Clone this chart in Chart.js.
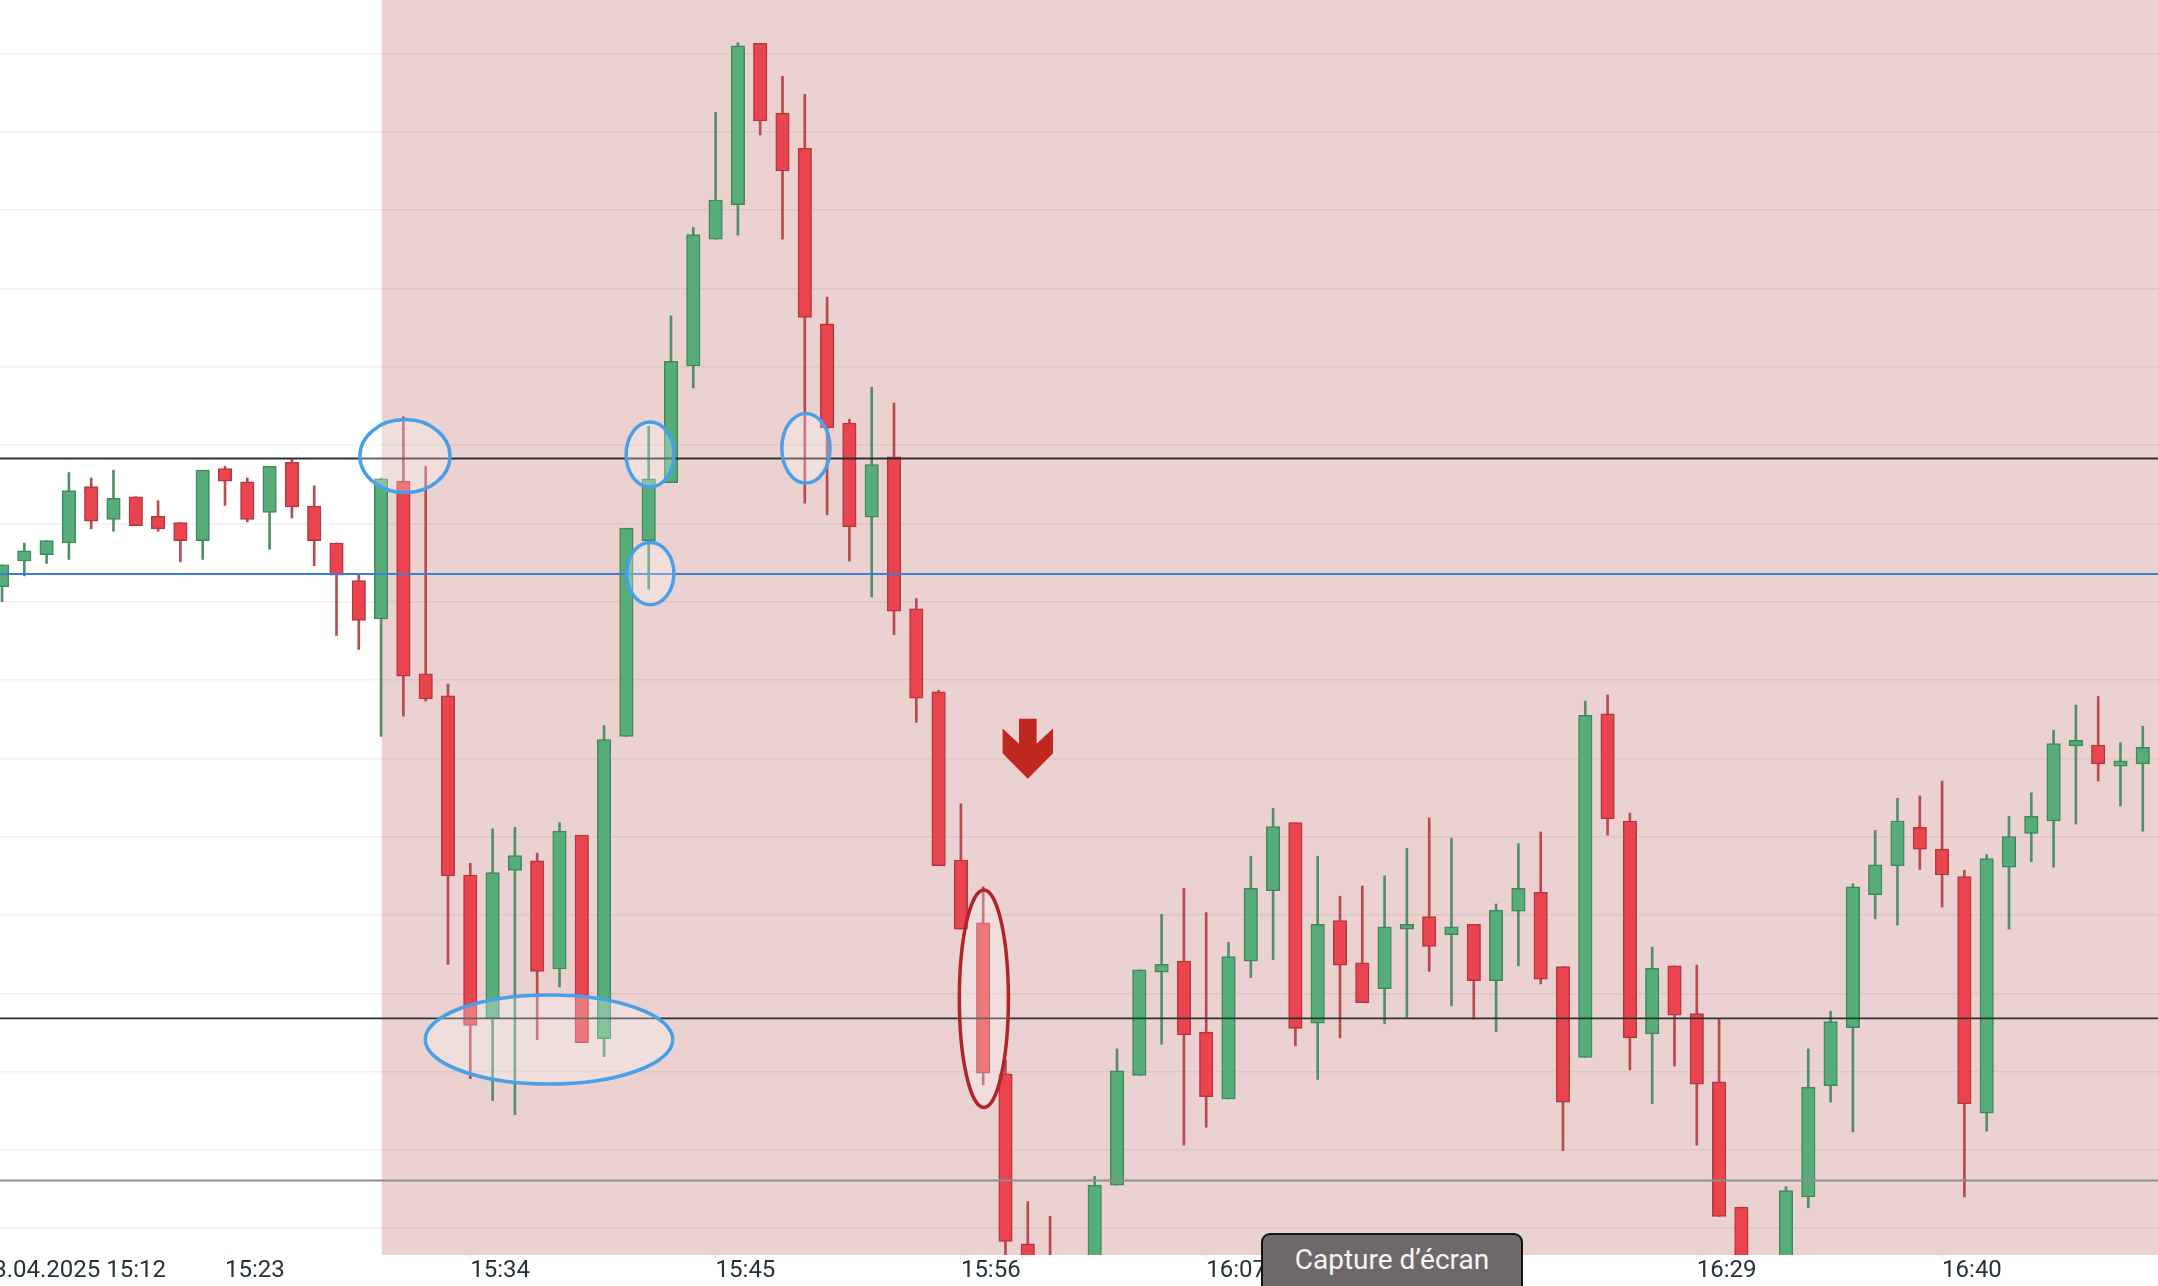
<!DOCTYPE html>
<html lang="fr">
<head>
<meta charset="utf-8">
<title>03.04.2025 – bougies 1 minute</title>
<script src="https://cdn.jsdelivr.net/npm/chart.js@4.4.1/dist/chart.umd.min.js"></script>
<style>
  html, body { margin: 0; padding: 0; background: #fff; overflow: hidden; }
  #wrap { position: relative; width: 2158px; height: 1286px; }
  #capture {
    position: absolute; left: 1261px; top: 1233px; width: 258px; height: 70px;
    background: #6e6968; border: 2px solid #141414; border-radius: 9px;
    color: #f4f4f4; font: 28px Roboto, "Noto Sans", sans-serif;
    line-height: 50px; text-align: center; box-sizing: content-box;
  }
</style>
</head>
<body>
<div id="wrap">
  <canvas id="chart"></canvas>
  <div id="capture">Capture d’écran</div>
</div>
<script>
// --- 1 minute candles, first one is 15:13 ---
const sessionDate = "03.04.2025";
const firstMinute = 15 * 60 + 13;

const candleOpen = [
  3181.9, 3185.2, 3186.0, 3187.5, 3194.7, 3190.5, 3193.4, 3190.9, 3190.1, 3187.8,
  3197.0, 3195.3, 3191.4, 3197.8, 3192.2, 3187.5, 3182.7, 3177.8, 3195.4, 3170.8,
  3168.0, 3145.1, 3126.8, 3145.7, 3146.9, 3133.1, 3150.2, 3124.2, 3162.8, 3187.8,
  3195.2, 3210.1, 3226.3, 3230.7, 3251.3, 3242.4, 3237.9, 3215.5, 3202.8, 3190.8,
  3198.5, 3179.1, 3168.5, 3147.0, 3139.0, 3119.7, 3098.0, 3096.0, 3087.2, 3092.5,
  3105.5, 3119.5, 3132.7, 3134.1, 3125.0, 3116.5, 3134.1, 3143.1, 3151.8, 3126.2,
  3139.3, 3133.9, 3130.6, 3138.2, 3139.8, 3137.5, 3138.8, 3131.6, 3140.5, 3142.9,
  3133.4, 3121.8, 3165.7, 3152.0, 3124.8, 3133.5, 3127.4, 3118.7, 3102.7, 3086.4,
  3092.5, 3104.0, 3118.2, 3125.6, 3142.6, 3146.3, 3151.2, 3148.4, 3144.9, 3114.7,
  3146.1, 3150.4, 3152.0, 3161.6, 3161.7, 3159.0, 3159.3, 3161.1
];
const candleHigh = [
  3184.7, 3187.5, 3187.8, 3196.5, 3195.8, 3196.8, 3193.4, 3192.9, 3190.1, 3196.8,
  3197.3, 3195.8, 3197.3, 3198.2, 3194.8, 3187.5, 3183.4, 3195.8, 3203.6, 3197.3,
  3169.5, 3146.6, 3151.0, 3151.2, 3147.9, 3151.8, 3150.2, 3164.2, 3189.4, 3202.4,
  3216.5, 3227.8, 3242.5, 3251.4, 3251.3, 3247.1, 3244.8, 3218.9, 3203.3, 3207.4,
  3205.4, 3180.4, 3168.7, 3154.2, 3143.6, 3121.5, 3103.4, 3101.5, 3094.3, 3106.6,
  3122.9, 3133.0, 3140.1, 3143.4, 3140.3, 3136.5, 3147.5, 3153.6, 3151.8, 3147.5,
  3142.4, 3143.7, 3145.0, 3148.5, 3152.4, 3149.8, 3138.8, 3141.4, 3149.1, 3150.6,
  3133.4, 3167.3, 3168.1, 3153.0, 3135.9, 3133.5, 3133.6, 3126.7, 3102.7, 3093.4,
  3105.3, 3122.9, 3127.7, 3144.0, 3150.8, 3154.9, 3155.2, 3157.1, 3145.7, 3147.7,
  3152.6, 3155.6, 3163.6, 3166.8, 3167.9, 3162.0, 3164.1, 3161.9
];
const candleLow = [
  3180.0, 3183.3, 3184.9, 3185.4, 3189.3, 3189.0, 3189.7, 3189.0, 3185.1, 3185.4,
  3192.3, 3190.2, 3186.7, 3190.7, 3184.6, 3175.7, 3173.9, 3162.8, 3165.4, 3167.3,
  3133.7, 3119.1, 3116.3, 3114.5, 3124.1, 3130.8, 3123.7, 3121.9, 3162.8, 3181.6,
  3195.2, 3207.3, 3226.3, 3226.8, 3239.6, 3226.3, 3192.6, 3191.1, 3185.2, 3180.6,
  3175.8, 3164.6, 3146.3, 3138.2, 3118.3, 3094.3, 3088.1, 3089.0, 3085.5, 3090.8,
  3105.5, 3119.5, 3123.5, 3110.6, 3112.9, 3116.5, 3132.0, 3134.3, 3123.3, 3119.0,
  3124.3, 3128.8, 3126.1, 3126.9, 3132.8, 3128.4, 3126.7, 3125.1, 3133.5, 3131.2,
  3109.9, 3121.8, 3150.2, 3120.2, 3115.9, 3120.7, 3110.6, 3101.5, 3089.0, 3083.7,
  3090.8, 3102.6, 3116.1, 3112.3, 3139.5, 3138.7, 3145.8, 3141.0, 3104.0, 3112.4,
  3138.2, 3146.8, 3146.1, 3151.6, 3157.1, 3153.9, 3150.7, 3133.8
];
const candleClose = [
  3184.7, 3186.5, 3187.8, 3194.2, 3190.3, 3193.2, 3189.7, 3189.3, 3187.8, 3196.8,
  3195.4, 3190.5, 3197.3, 3192.1, 3187.8, 3183.4, 3177.6, 3195.7, 3170.5, 3167.6,
  3145.0, 3125.9, 3145.4, 3147.6, 3132.8, 3150.7, 3123.7, 3162.4, 3189.4, 3195.7,
  3210.7, 3226.9, 3231.3, 3251.0, 3241.4, 3235.0, 3216.3, 3202.2, 3189.6, 3197.5,
  3178.8, 3167.7, 3146.3, 3138.2, 3119.8, 3098.3, 3089.9, 3090.8, 3092.5, 3105.5,
  3120.1, 3133.0, 3133.7, 3124.7, 3116.8, 3134.7, 3143.4, 3151.3, 3125.5, 3138.8,
  3133.6, 3128.8, 3138.5, 3138.8, 3136.0, 3138.5, 3131.6, 3140.6, 3143.4, 3131.8,
  3116.1, 3165.5, 3152.3, 3124.3, 3133.2, 3127.2, 3118.4, 3101.5, 3090.8, 3090.8,
  3104.8, 3118.0, 3126.4, 3143.6, 3146.4, 3152.0, 3148.4, 3145.1, 3115.9, 3147.2,
  3150.0, 3152.6, 3161.9, 3162.3, 3159.3, 3159.7, 3161.4, 3135.6
];

// x ticks every 11 minutes (candle index), -1 = 15:12
const axisTicks = [-1, 10, 21, 32, 43, 54, 65, 76, 87];
// horizontal grid levels
const gridPrices = [3100, 3110, 3120, 3130, 3140, 3150, 3160, 3170, 3180, 3190, 3200, 3210, 3220, 3230, 3240, 3250];
// drawn support / resistance lines
const levelPrices = [3198.3, 3183.55, 3126.8, 3106.1];

const levelStyles = [
  { color: "#2c3135", width: 2 },
  { color: "#3a7fd5", width: 2 },
  { color: "#2c3135", width: 1.8 },
  { color: "#8b8d8f", width: 2 },
];

// hand drawn marks (candle index / price units)
const marks = [
  { x: 18.07, y: 3198.6, rx: 2.02, ry: 4.66, color: "#4a9fe9" },
  { x: 24.53, y: 3124.1, rx: 5.55, ry: 5.69, color: "#4a9fe9" },
  { x: 29.06, y: 3198.8, rx: 1.07, ry: 4.15, color: "#4a9fe9" },
  { x: 29.07, y: 3183.6, rx: 1.06, ry: 3.97, color: "#4a9fe9" },
  { x: 36.05, y: 3199.6, rx: 1.08, ry: 4.45, color: "#4a9fe9" },
  { x: 44.03, y: 3129.3, rx: 1.10, ry: 13.9, color: "#b3242a" },
];
const shadeFrom = 17.03;
const arrowAt = { x: 46.0, y: 3157.4 };

const upFill = "#57ad79", upLine = "#3f8a5c", upWick = "#4f9068";
const dnFill = "#ea444e", dnLine = "#b5383f", dnWick = "#b84a50";

function minuteLabel(v) {
  const m = firstMinute + v;
  const hh = String(Math.floor(m / 60)).padStart(2, "0");
  const mm = String(m % 60).padStart(2, "0");
  return (v === axisTicks[0] ? sessionDate + " " : "") + hh + ":" + mm;
}

const isUp = candleOpen.map((o, i) => candleClose[i] >= o);

const overlay = {
  id: "overlay",
  beforeDraw(chart) {
    const { ctx, chartArea: a, scales } = chart;
    const x0 = scales.x.getPixelForValue(shadeFrom);
    ctx.save();
    ctx.fillStyle = "#ebd2d0";
    ctx.fillRect(x0, a.top, a.right - x0, a.bottom - a.top);
    ctx.restore();
  },
  afterDatasetsDraw(chart) {
    const { ctx, chartArea: a, scales: { x, y } } = chart;
    ctx.save();
    ctx.beginPath();
    ctx.rect(a.left, a.top, a.right - a.left, a.bottom - a.top);
    ctx.clip();

    levelPrices.forEach((p, i) => {
      const py = y.getPixelForValue(p);
      ctx.strokeStyle = levelStyles[i].color;
      ctx.lineWidth = levelStyles[i].width;
      ctx.beginPath();
      ctx.moveTo(a.left, py);
      ctx.lineTo(a.right, py);
      ctx.stroke();
    });

    marks.forEach((m) => {
      const cx = x.getPixelForValue(m.x);
      const cy = y.getPixelForValue(m.y);
      const rx = Math.abs(x.getPixelForValue(m.x + m.rx) - cx);
      const ry = Math.abs(y.getPixelForValue(m.y + m.ry) - cy);
      ctx.beginPath();
      ctx.ellipse(cx, cy, rx, ry, 0, 0, Math.PI * 2);
      ctx.fillStyle = "rgba(255,255,255,0.27)";
      ctx.fill();
      ctx.strokeStyle = m.color;
      ctx.lineWidth = 3.5;
      ctx.stroke();
    });

    // red down arrow
    const tx = x.getPixelForValue(arrowAt.x);
    const ty = y.getPixelForValue(arrowAt.y);
    const pts = [[-8.8, -60], [8.8, -60], [8.8, -35], [25.2, -50.1], [25.2, -25.5],
                 [0, 0], [-25.2, -25.5], [-25.2, -50.1], [-8.8, -35]];
    ctx.beginPath();
    pts.forEach(([dx, dy], i) => (i ? ctx.lineTo(tx + dx, ty + dy) : ctx.moveTo(tx + dx, ty + dy)));
    ctx.closePath();
    ctx.fillStyle = "#c0271e";
    ctx.fill();
    ctx.restore();
  },
};

new Chart(document.getElementById("chart"), {
  type: "bar",
  data: {
    datasets: [
      {
        label: "corps",
        data: candleOpen.map((o, i) => ({ x: i, y: [o, candleClose[i]] })),
        backgroundColor: isUp.map((u) => (u ? upFill : dnFill)),
        borderColor: isUp.map((u) => (u ? upLine : dnLine)),
        borderWidth: 1.5,
        borderSkipped: false,
        barThickness: 13.5,
        grouped: false,
        order: 0,
        clip: 0,
      },
      {
        label: "mèches",
        data: candleLow.map((l, i) => ({ x: i, y: [l, candleHigh[i]] })),
        backgroundColor: isUp.map((u) => (u ? upWick : dnWick)),
        borderWidth: 0,
        barThickness: 2,
        grouped: false,
        order: 1,
        clip: 0,
      },
    ],
  },
  options: {
    responsive: true,
    maintainAspectRatio: false,
    animation: false,
    events: [],
    layout: { padding: 0 },
    plugins: { legend: { display: false }, tooltip: { enabled: false } },
    scales: {
      x: {
        type: "linear",
        offset: false,
        min: -0.0897,
        max: 96.682,
        afterBuildTicks: (s) => { s.ticks = axisTicks.map((v) => ({ value: v })); },
        afterFit: (s) => { s.height = 31; s.paddingLeft = 0; s.paddingRight = 0; },
        grid: { offset: false, drawOnChartArea: false, drawTicks: true, tickLength: 4, tickColor: "#e2e2e2" },
        border: { display: false },
        ticks: {
          autoSkip: false,
          maxRotation: 0,
          align: "start",
          padding: 0,
          color: "#263238",
          font: { family: "Roboto", size: 24, lineHeight: 1 },
          callback: (v) => minuteLabel(v),
        },
      },
      y: {
        type: "linear",
        min: 3096.58,
        max: 3256.84,
        afterBuildTicks: (s) => { s.ticks = gridPrices.map((v) => ({ value: v })); },
        afterFit: (s) => { s.width = 0; s.paddingTop = 0; s.paddingBottom = 0; },
        grid: { color: "rgba(0,0,0,0.055)", lineWidth: 1.5, drawTicks: false },
        border: { display: false },
        ticks: { display: false },
      },
    },
  },
  plugins: [overlay],
});
</script>
</body>
</html>
